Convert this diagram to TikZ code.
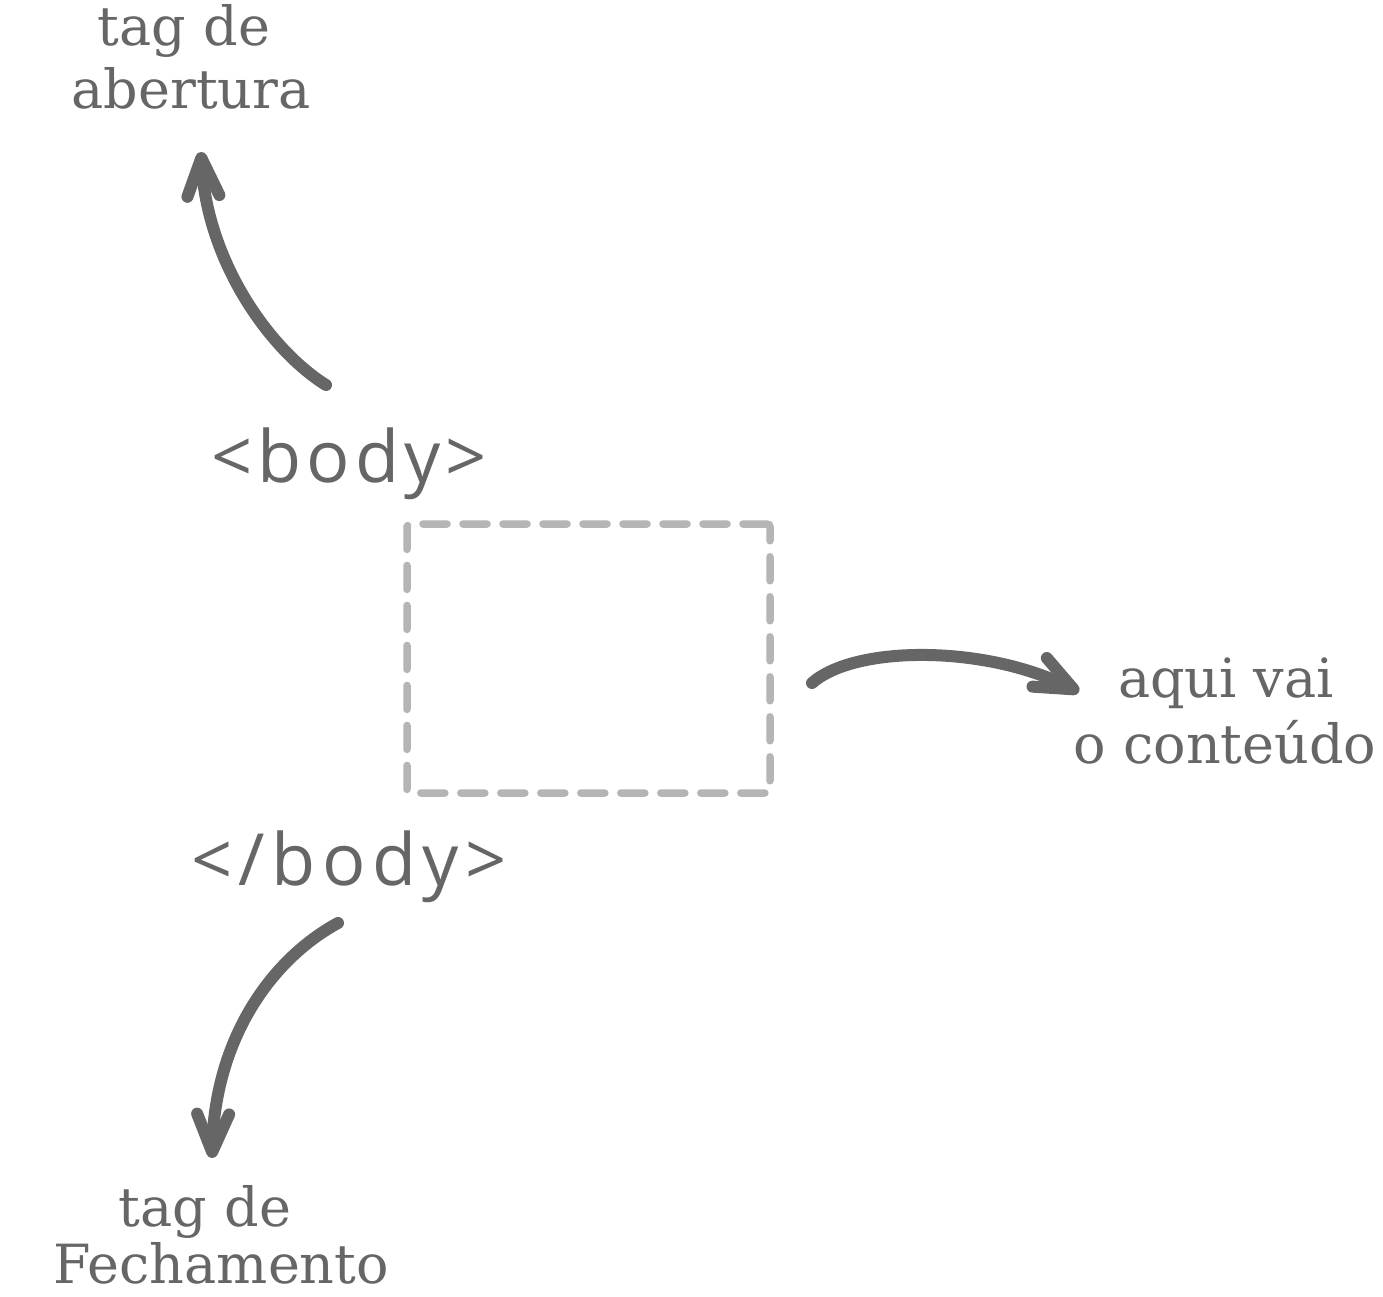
\documentclass[tikz,border=0pt]{standalone}
\usepackage{fontspec}
\setmainfont{DejaVu Serif}
\newfontfamily\tagfont[LetterSpace=7]{Open Sans}
\newfontfamily\closefont[LetterSpace=9]{Open Sans}
\usetikzlibrary{arrows.meta}
\definecolor{ink}{HTML}{666666}
\definecolor{dashgray}{HTML}{B5B5B5}
\tikzset{
  lbl/.style={inner sep=0pt, anchor=base, text=ink, font=\fontsize{54}{65}\selectfont},
  tagtxt/.style={inner sep=0pt, anchor=base, text=ink, font=\tagfont\fontsize{72}{80}\selectfont},
  contentbox/.style={draw=dashgray, line width=7.5pt, dash pattern=on 24pt off 16pt, line cap=round, rounded corners=3pt, minimum width=363pt, minimum height=269pt, inner sep=0pt},
  pointer/.style={draw=ink, line width=12pt, line cap=round, line join=round, -{Straight Barb[length=38pt,width=32pt,round]}}
}
\begin{document}
\begin{tikzpicture}[x=1pt,y=-1pt]
\useasboundingbox (0,0) rectangle (1383,1296);
\fill[white] (0,0) rectangle (1383,1296);
% labels
\node[lbl] (ab1) at (184,45) {tag de};
\node[lbl] (ab2) at (191,108) {abertura};
\node[lbl] (aq1) at (1226,697) {aqui vai};
\node[lbl] (aq2) at (1225,763) {o conteúdo};
\node[lbl] (fe1) at (205,1226) {tag de};
\node[lbl] (fe2) at (221,1283) {Fechamento};
% tags
\node[tagtxt] (open) at (349,482) {<body>};
\node[tagtxt, font=\closefont\fontsize{72}{80}\selectfont] (close) at (349,885) {</body>};
% content box
\node[contentbox] (box) at (588.5,658.5) {};
% arrow coordinates
\coordinate (s1) at (326,385);
\coordinate (e1) at (201,152);
\coordinate (s2) at (812,683);
\coordinate (e2) at (1079,692);
\coordinate (s3) at (338,923);
\coordinate (e3) at (212,1158);
\draw[pointer] (s1) .. controls (270,350) and (207,262) .. (e1);
\draw[pointer] (s2) .. controls (855,645) and (985,645) .. (e2);
\draw[pointer] (s3) .. controls (270,960) and (215,1040) .. (e3);
\end{tikzpicture}
\end{document}
